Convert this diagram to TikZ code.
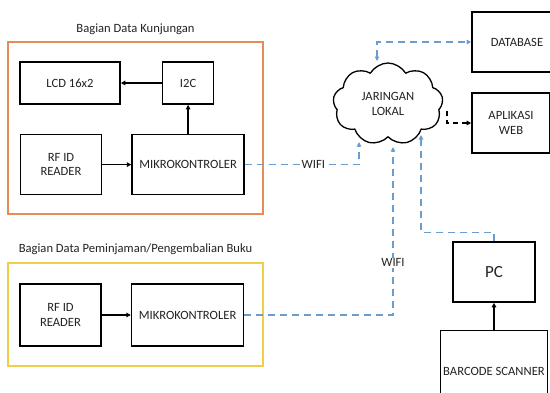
\documentclass[tikz,border=0pt]{standalone}
\usepackage{fontspec}
\setmainfont{Carlito}
\usepackage{xcolor}
\usepackage{tikz}
\usetikzlibrary{positioning}
\usetikzlibrary{arrows.meta}
\usetikzlibrary{shapes.symbols}
\definecolor{kunjunganorange}{RGB}{230,140,85}
\definecolor{pinjamyellow}{RGB}{242,206,70}
\definecolor{wifiblue}{RGB}{108,156,204}
\definecolor{textgray}{RGB}{35,35,35}

\begin{document}
\begin{tikzpicture}[x=1pt, y=-1pt,
font=\fontsize{12.6}{14.5}\selectfont, text=textgray,
>={Triangle[length=4.5pt,width=4.5pt]},
blocknode/.style={rectangle, draw=black, line width=1.6pt, fill=white, align=center, inner sep=2pt},
framenode/.style={rectangle, line width=1.8pt, inner sep=0pt},
titlenode/.style={inner sep=1pt},
cloudnode/.style={cloud, cloud puffs=9, cloud puff arc=120, aspect=1.3, draw=black, line width=1.3pt, fill=white, align=center, minimum width=110pt, minimum height=82pt},
arrowline/.style={->, line width=1.3pt, draw=black},
wifiline/.style={line width=1.4pt, draw=wifiblue, dash pattern=on 7pt off 5pt},
weblink/.style={line width=1.4pt, draw=black, dash pattern=on 5pt off 4pt},
]
\useasboundingbox (0,0) rectangle (550,392);
\clip (0,0) rectangle (550,392);

%Frames
\node[framenode, draw=kunjunganorange, minimum width=255pt, minimum height=172pt]	(kunjungan)	at (135.5,128)	{};
\node[framenode, draw=pinjamyellow, minimum width=255pt, minimum height=103pt]	(pinjam)	at (135.5,314.5)	{};
\node[titlenode]	(kunjungantitle)	[above=5pt of kunjungan]	{Bagian Data Kunjungan};
\node[titlenode]	(pinjamtitle)	[above=6pt of pinjam]	{Bagian Data Peminjaman/Pengembalian Buku};

%Nodes
\node[blocknode, minimum width=100pt, minimum height=42pt]	(lcd)		at (70,83)			{LCD 16x2};
\node[blocknode, minimum width=51pt, minimum height=42pt]	(i2c)		[right=41pt of lcd]		{I2C};
\node[blocknode, minimum width=112pt, minimum height=60pt]	(mikro1)	[below=29pt of i2c]		{MIKROKONTROLER};
\node[blocknode, minimum width=81pt, minimum height=60pt]	(rfid1)	[left=29pt of mikro1]	{RF ID\\READER};
\node[blocknode, minimum width=81pt, minimum height=62pt]	(rfid2)	at (60.5,315)		{RF ID\\READER};
\node[blocknode, minimum width=112pt, minimum height=62pt]	(mikro2)	[right=29pt of rfid2]	{MIKROKONTROLER};
\node[cloudnode]	(lan)		at (388,104)			{JARINGAN\\LOKAL};
\node[blocknode, minimum width=90pt, minimum height=60pt]	(db)		at (517,42)			{DATABASE};
\node[blocknode, minimum width=78pt, minimum height=60pt]	(web)		at (511,123)			{APLIKASI\\WEB};
\node[blocknode, minimum width=82pt, minimum height=60pt, font=\fontsize{17}{19}\selectfont]	(pc)	at (494,272)	{PC};
\node[blocknode, minimum width=107pt, minimum height=82pt]	(scanner)	[below=27pt of pc]		{BARCODE SCANNER};

%Cloud entry points
\coordinate (lanin1) at (359,142);
\coordinate (lanin2) at (393,147);
\coordinate (lanin3) at (421,135);
\coordinate (landb) at (377,61);
\coordinate (lanweb) at (447,111);

%Lines
\draw[arrowline] (i2c.west) -- (lcd.east);
\draw[arrowline] (mikro1.north) -- (i2c.south);
\draw[arrowline] (rfid1.east) -- (mikro1.west);
\draw[arrowline] (rfid2.east) -- (mikro2.west);
\draw[arrowline] (scanner.north) -- (pc.south);

\draw[wifiline, ->] (mikro1.east) -| node[pos=0.3, fill=white, inner sep=1pt, text=textgray] {WIFI} (lanin1);
\draw[wifiline, ->] (mikro2.east) -| node[pos=0.655, fill=white, inner sep=1pt, text=textgray] {WIFI} (lanin2);
\draw[wifiline, ->] (pc.north) -- ++(0,-9) -| (lanin3);
\draw[wifiline, <->] (landb) |- (db.west);
\draw[weblink, ->] (lanweb) |- (web.west);
\end{tikzpicture}
\end{document}
